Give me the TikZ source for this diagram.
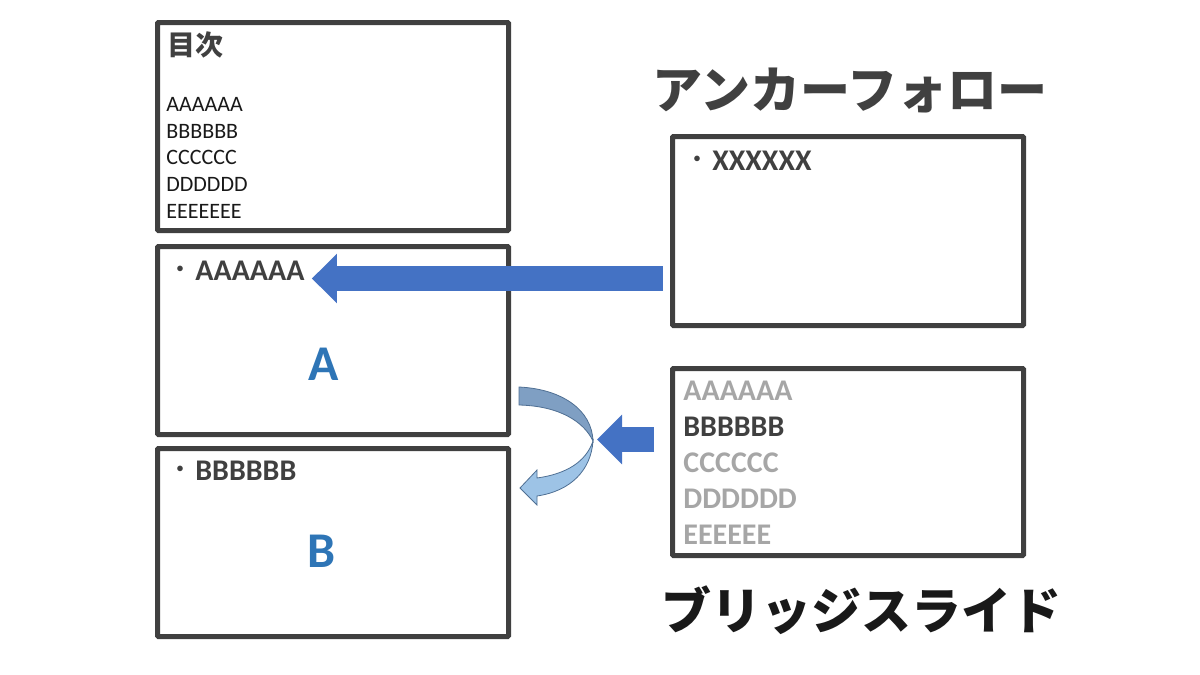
\documentclass[tikz,border=0pt]{standalone}
\usepackage{fontspec}
\setmainfont{Carlito}
\newfontfamily\cjk{Noto Sans CJK JP}
\usetikzlibrary{arrows.meta,positioning}

\definecolor{frame}{HTML}{404040}
\definecolor{dim}{HTML}{A6A6A6}
\definecolor{accent}{HTML}{2E75B6}
\definecolor{arrowblue}{HTML}{4472C4}
\definecolor{turnup}{HTML}{7F9FC3}
\definecolor{turndown}{HTML}{9DC3E6}
\definecolor{turnline}{HTML}{4F6F93}

\newcommand{\dotmark}{\makebox[15pt]{\raisebox{2pt}{\cjk\fontsize{10pt}{12pt}\selectfont ・}}}

\begin{document}
\begin{tikzpicture}[x=0.5pt,y=-0.5pt,
        slide/.style={draw=frame,line width=2.5pt,rounded corners=0.5pt,
            minimum width=175.5pt,inner sep=0pt},
        item/.style={anchor=base west,inner sep=0pt,font=\bfseries\fontsize{15pt}{18pt}\selectfont,text=frame},
        tocline/.style={anchor=base west,inner sep=0pt,font=\fontsize{11pt}{13pt}\selectfont,text=black!90},
        bridgeline/.style={anchor=base west,inner sep=0pt,font=\bfseries\fontsize{15pt}{18pt}\selectfont,text=dim},
        big letter/.style={font=\bfseries\fontsize{25pt}{30pt}\selectfont,text=accent},
        title/.style={font=\cjk\bfseries\fontsize{25pt}{28pt}\selectfont},
        block arrow/.style={draw=arrowblue,line width=12.5pt,
            -{Triangle[width=24pt,length=12.5pt,fill=arrowblue]}}]

    \useasboundingbox (0,0) rectangle (1200,675);

    % slides on the left
    \node[slide,minimum height=104pt,anchor=north west] (toc) at (155,20) {};
    \node[slide,minimum height=94pt] (slideA) [below=5.5pt of toc] {};
    \node[slide,minimum height=94pt] (slideB) [below=4.5pt of slideA] {};

    % anchor follow and bridge slide
    \node[slide,minimum height=94.5pt,anchor=north west] (anchor) at (670,134) {};
    \node[slide,minimum height=93.5pt] (bridge) [below=19pt of anchor] {};

    \node[title,text=frame] (anchortitle) at (850,90) {アンカーフォロー};
    \node[title,text=black!90] (bridgetitle) at (861,610) {ブリッジスライド};

    % table of contents
    \node[anchor=center,inner sep=0pt,text=frame,font=\cjk\bfseries\fontsize{14pt}{16pt}\selectfont] (tochead) at (195.5,44.5) {目次};
    \node[tocline] (tocA) at (166,111.5) {AAAAAA};
    \node[tocline] (tocB) at (166,138.2) {BBBBBB};
    \node[tocline] (tocC) at (166,164.9) {CCCCCC};
    \node[tocline] (tocD) at (166,191.6) {DDDDDD};
    \node[tocline] (tocE) at (166,218.3) {EEEEEEE};

    % slide contents
    \node[item] (itemX) at (682,170) {\dotmark XXXXXX};
    \node[item] (itemA) at (165,280) {\dotmark AAAAAA};
    \node[item] (itemB) at (165,480) {\dotmark BBBBBB};
    \node[big letter] (letterA) at (324,364) {A};
    \node[big letter] (letterB) at (322,551) {B};

    % bridge list
    \node[bridgeline] (bridgeA) at (683,400.5) {AAAAAA};
    \node[bridgeline,text=frame] (bridgeB) at (683,436.5) {BBBBBB};
    \node[bridgeline] (bridgeC) at (683,472) {CCCCCC};
    \node[bridgeline] (bridgeD) at (683,508) {DDDDDD};
    \node[bridgeline] (bridgeE) at (683,544) {EEEEEE};

    % arrows
    \coordinate (tailA) at (663,278.5);
    \coordinate (tailB) at (654,439.5);
    \coordinate (turn) at (597,439.5);
    \draw[block arrow] (tailA) -- ([xshift=3.5pt]tailA -| itemA.east);
    \draw[block arrow] (tailB) -- (turn);

    % u-turn arrow between A and B
    \filldraw[fill=turnup,draw=turnline,line width=0.4pt]
        (519,387) .. controls (562,389) and (592,410) .. (593,441)
        .. controls (584,422) and (560,406) .. (519,405) -- cycle;
    \filldraw[fill=turndown,draw=turnline,line width=0.4pt]
        (593,441) .. controls (591,470) and (571,491) .. (537,496)
        -- (537,505) -- (520,488) -- (537,470) -- (537,478)
        .. controls (566,474) and (586,462) .. (593,441) -- cycle;
\end{tikzpicture}
\end{document}
